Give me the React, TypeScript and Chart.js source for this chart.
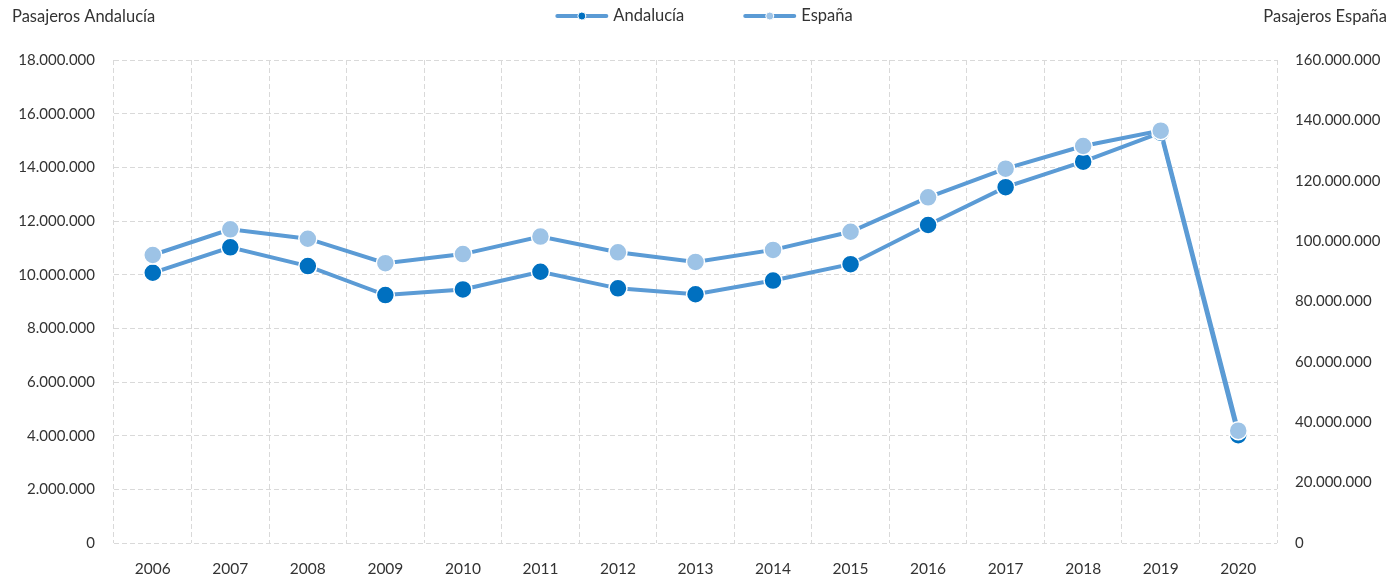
import React, { useEffect, useRef } from "react";
import { Chart, registerables } from "chart.js";

Chart.register(...registerables);

const years = ["2006", "2007", "2008", "2009", "2010", "2011", "2012", "2013", "2014", "2015", "2016", "2017", "2018", "2019", "2020"];
const andalucia = [10070000, 11020000, 10320000, 9240000, 9450000, 10110000, 9490000, 9270000, 9780000, 10390000, 11850000, 13260000, 14210000, 15290000, 4020000];
const espana = [95400000, 103900000, 100800000, 92700000, 95700000, 101500000, 96300000, 93100000, 97100000, 103100000, 114500000, 124000000, 131500000, 136600000, 37200000];
const seriesNames = ["Andalucía", "España"];
const axisTitles = ["Pasajeros Andalucía", "Pasajeros España"];

const LINE = "#5b9bd5";
const DARK = "#0070c0";
const LIGHT = "#9dc3e6";
const TEXT = "#333333";
const FONT = "Lato";

const fmt = (v: number) => String(Math.round(v)).replace(/\B(?=(\d{3})+(?!\d))/g, ".");

const overlay = {
  id: "overlay",
  afterDraw(chart: any) {
    const ctx = chart.ctx;
    ctx.save();
    ctx.font = `16.5px ${FONT}`;
    ctx.fillStyle = TEXT;
    ctx.textBaseline = "middle";
    ctx.textAlign = "left";
    ctx.fillText(axisTitles[0], 12, 17);
    ctx.textAlign = "right";
    ctx.fillText(axisTitles[1], chart.width - 5, 17);

    // legend
    const lineW = 53;
    const gapText = 5;
    const gapItem = 59;
    const widths = seriesNames.map((n) => ctx.measureText(n).width);
    const total = widths.reduce((a, w) => a + lineW + gapText + w, 0) + gapItem * (seriesNames.length - 1);
    let x = chart.width / 2 + 8 - total / 2;
    const y = 16;
    const dots = [DARK, LIGHT];
    seriesNames.forEach((n, i) => {
      ctx.strokeStyle = LINE;
      ctx.lineWidth = 4;
      ctx.lineCap = "round";
      ctx.beginPath();
      ctx.moveTo(x + 2, y);
      ctx.lineTo(x + lineW - 2, y);
      ctx.stroke();
      ctx.beginPath();
      ctx.fillStyle = dots[i];
      ctx.strokeStyle = "#ffffff";
      ctx.lineWidth = 1;
      ctx.arc(x + lineW / 2, y, 4, 0, Math.PI * 2);
      ctx.fill();
      ctx.stroke();
      ctx.fillStyle = TEXT;
      ctx.textAlign = "left";
      ctx.fillText(n, x + lineW + gapText, y);
      x += lineW + gapText + widths[i] + gapItem;
    });
    ctx.restore();
  },
};

export default function App() {
  const ref = useRef<HTMLCanvasElement | null>(null);
  useEffect(() => {
    document.body.style.margin = "0";
    if (!ref.current) return;
    const chart = new Chart(ref.current, {
      type: "line",
      data: {
        labels: years,
        datasets: [
          {
            label: seriesNames[0],
            data: andalucia,
            yAxisID: "y",
            borderColor: LINE,
            borderWidth: 4,
            backgroundColor: DARK,
            pointBackgroundColor: DARK,
            pointBorderColor: "#ffffff",
            pointBorderWidth: 1.5,
            pointRadius: 9,
            tension: 0,
            order: 1,
          },
          {
            label: seriesNames[1],
            data: espana,
            yAxisID: "y1",
            borderColor: LINE,
            borderWidth: 4,
            backgroundColor: LIGHT,
            pointBackgroundColor: LIGHT,
            pointBorderColor: "#ffffff",
            pointBorderWidth: 1.5,
            pointRadius: 9,
            tension: 0,
            order: 0,
          },
        ],
      },
      options: {
        responsive: false,
        animation: false,
        layout: { padding: { top: 60, left: 0, right: 0, bottom: 0 } },
        plugins: { legend: { display: false }, tooltip: { enabled: false } },
        scales: {
          x: {
            offset: true,
            grid: { offset: true, color: "#d9d9d9", lineWidth: 1, drawTicks: false },
            border: { display: false, dash: [5, 3] },
            ticks: { color: TEXT, font: { family: FONT, size: 15.5 }, padding: 17, maxRotation: 0 },
            afterFit: (s: any) => { s.height = 34; },
          },
          y: {
            position: "left",
            min: 0,
            max: 18000000,
            grid: { color: "#d9d9d9", lineWidth: 1, drawTicks: false },
            border: { display: false, dash: [5, 3] },
            ticks: { stepSize: 2000000, color: TEXT, font: { family: FONT, size: 15 }, padding: 19, callback: (v: any) => fmt(Number(v)) },
            afterFit: (s: any) => { s.width = 114; },
          },
          y1: {
            position: "right",
            min: 0,
            max: 160000000,
            grid: { drawOnChartArea: false, drawTicks: false },
            border: { display: false },
            ticks: { stepSize: 20000000, color: TEXT, font: { family: FONT, size: 15 }, padding: 18, callback: (v: any) => fmt(Number(v)) },
            afterFit: (s: any) => { s.width = 115; },
          },
        },
      },
      plugins: [overlay],
    });
    return () => chart.destroy();
  }, []);
  return <canvas ref={ref} width={1392} height={577} style={{ display: "block" }} />;
}
